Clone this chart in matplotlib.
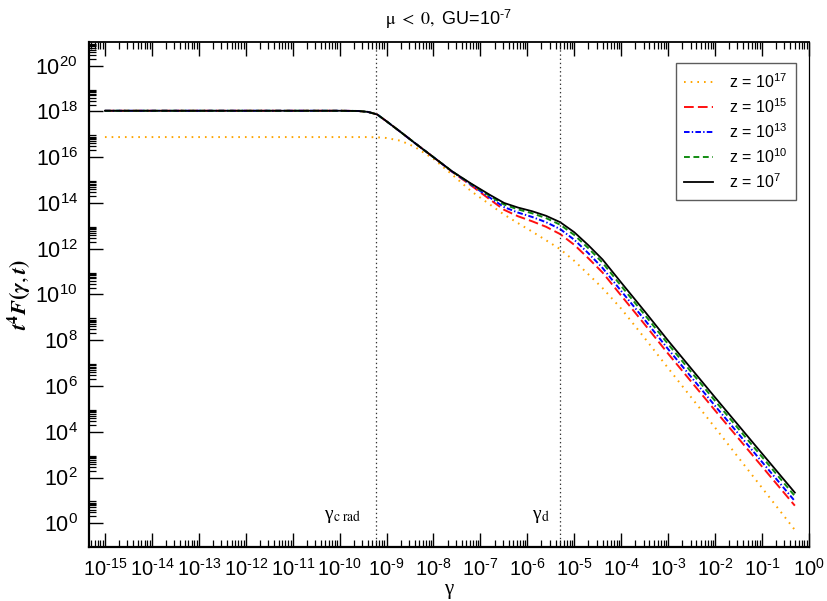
import numpy as np
import matplotlib
matplotlib.use("Agg")
import matplotlib.pyplot as plt
from matplotlib.ticker import FixedLocator, FuncFormatter, NullFormatter

plt.rcParams['font.family'] = ['Liberation Sans', 'DejaVu Sans']
plt.rcParams['lines.scale_dashes'] = False

gamma = [1e-15, 1e-10, 2.5e-10, 4e-10, 6.3e-10, 1e-9, 2e-9, 4e-9, 1e-8, 2.5e-8,
         6.3e-8, 1.6e-7, 3.2e-7, 6.3e-7, 1.26e-6, 2.5e-6, 5e-6, 1e-5, 2e-5, 4e-5,
         1e-4, 3.2e-4, 1e-3, 1e-2, 1e-1, 0.5]

# log10 of t^4 F(gamma, t) for each z
logF_z17 = [16.88, 16.88, 16.88, 16.88, 16.87, 16.84, 16.72, 16.45, 15.93, 15.24,
            14.52, 13.93, 13.49, 13.12, 12.75, 12.37, 11.98, 11.47, 10.88, 10.28,
            9.38, 8.08, 6.78, 4.18, 1.55, -0.29]
logF_z15 = [18.03, 18.03, 18.02, 17.98, 17.87, 17.57, 17.10, 16.62, 16.00, 15.36,
            14.77, 14.15, 13.70, 13.42, 13.20, 12.96, 12.64, 12.17, 11.58, 10.96,
            9.95, 8.68, 7.41, 4.93, 2.48, 0.77]
logF_z13 = [18.03, 18.03, 18.02, 17.98, 17.87, 17.57, 17.10, 16.62, 16.00, 15.37,
            14.80, 14.23, 13.82, 13.58, 13.39, 13.16, 12.86, 12.39, 11.80, 11.16,
            10.15, 8.88, 7.61, 5.13, 2.68, 0.97]
logF_z10 = [18.03, 18.03, 18.02, 17.98, 17.87, 17.57, 17.10, 16.62, 16.00, 15.38,
            14.83, 14.30, 13.93, 13.72, 13.55, 13.34, 13.05, 12.60, 12.02, 11.39,
            10.37, 9.10, 7.83, 5.35, 2.90, 1.19]
logF_z7 = [18.03, 18.03, 18.02, 17.98, 17.87, 17.57, 17.10, 16.62, 16.00, 15.38,
           14.85, 14.35, 14.00, 13.80, 13.64, 13.44, 13.16, 12.72, 12.15, 11.53,
           10.52, 9.25, 7.98, 5.50, 3.05, 1.34]

labels = ['z = 10$^{\\mathdefault{17}}$', 'z = 10$^{\\mathdefault{15}}$',
          'z = 10$^{\\mathdefault{13}}$', 'z = 10$^{\\mathdefault{10}}$',
          'z = 10$^{\\mathdefault{7}}$']
gamma_c_rad = 6.1e-10
gamma_d = 4.9e-6

HYPHEN = '\u2010'


def pow10_label(v, pos):
    e = int(round(np.log10(v)))
    s = str(e).replace('-', HYPHEN)
    return '$\\mathdefault{10^{%s}}$' % s


fig = plt.figure(figsize=(8.27, 6.01), dpi=100)
ax = fig.add_axes([0.1076, 0.0899, 0.8706, 0.8402])

series = [logF_z17, logF_z15, logF_z13, logF_z10, logF_z7]
styles = [
    dict(color='#FFA500', lw=1.4, ls=(0, (1.2, 3.6))),
    dict(color='#FF1010', lw=1.4, ls=(0, (7.0, 3.0))),
    dict(color='#0000FF', lw=1.4, ls=(0, (4.0, 1.6, 1.0, 1.6))),
    dict(color='#128C12', lw=1.4, ls=(0, (4.2, 2.6))),
    dict(color='black', lw=1.3, ls='-'),
]
for vals, lab, st in zip(series, labels, styles):
    ax.plot(gamma, 10.0 ** np.array(vals), label=lab, **st)

ax.axvline(gamma_c_rad, color='#333333', lw=0.9, ls=(0, (1, 2)))
ax.axvline(gamma_d, color='#333333', lw=0.9, ls=(0, (1, 2)))

ax.set_xscale('log')
ax.set_yscale('log')
ax.set_xlim(10 ** -15.34, 1.0)
ax.set_ylim(10 ** -1.035, 10 ** 21.035)

ax.xaxis.set_major_locator(FixedLocator([10.0 ** e for e in range(-15, 1)]))
ax.xaxis.set_minor_locator(FixedLocator([m * 10.0 ** e for e in range(-16, 0) for m in range(2, 10)]))
ax.yaxis.set_major_locator(FixedLocator([10.0 ** e for e in range(0, 21, 2)]))
ax.yaxis.set_minor_locator(FixedLocator([m * 10.0 ** e for e in range(-2, 22, 2) for m in range(2, 10)]))
ax.xaxis.set_major_formatter(FuncFormatter(pow10_label))
ax.yaxis.set_major_formatter(FuncFormatter(pow10_label))
ax.xaxis.set_minor_formatter(NullFormatter())
ax.yaxis.set_minor_formatter(NullFormatter())

ax.tick_params(which='both', direction='in', top=True, right=False)
ax.tick_params(axis='x', labelsize=14.5)
ax.tick_params(axis='y', labelsize=15.5)
ax.tick_params(which='major', length=10, width=1.0, pad=8)
ax.tick_params(which='minor', length=5, width=0.9)
for s in ['left', 'bottom']:
    ax.spines[s].set_linewidth(1.6)
ax.spines['top'].set_linewidth(1.3)
ax.spines['right'].set_linewidth(0.9)

ax.annotate('γ$_{\\mathrm{c\\ rad}}$', xy=(gamma_c_rad, 10 ** 0.28), xytext=(-11, 0),
            textcoords='offset points', ha='right', va='center', fontsize=14,
            family='Liberation Serif', math_fontfamily='stix')
ax.annotate('γ$_{\\mathrm{d}}$', xy=(gamma_d, 10 ** 0.28), xytext=(-7, 0),
            textcoords='offset points', ha='right', va='center', fontsize=14,
            family='Liberation Serif', math_fontfamily='stix')

ax.set_xlabel('γ', family='Liberation Serif', fontsize=15, labelpad=0)
ax.set_ylabel(r'$\mathbfit{t}^{\mathbf{4}}\mathbfit{F}\mathbf{(}\mathbfit{\gamma},\mathbfit{t}\mathbf{)}$',
              fontsize=16, math_fontfamily='stix', labelpad=2)
ax.set_title('$\\mathrm{\\mu\\ <\\ 0,}$ GU=10$^{\\mathdefault{%s7}}$' % HYPHEN, fontsize=13, pad=12,
             math_fontfamily='stix')

leg = ax.legend(loc='upper right', bbox_to_anchor=(0.982, 0.958), borderaxespad=0,
                fancybox=False, edgecolor='#333333', fontsize=11.5, handlelength=1.8,
                handletextpad=1.0, labelspacing=0.4, borderpad=0.55)
leg.get_frame().set_linewidth(1.0)

fig.savefig('out.png', dpi=100)
